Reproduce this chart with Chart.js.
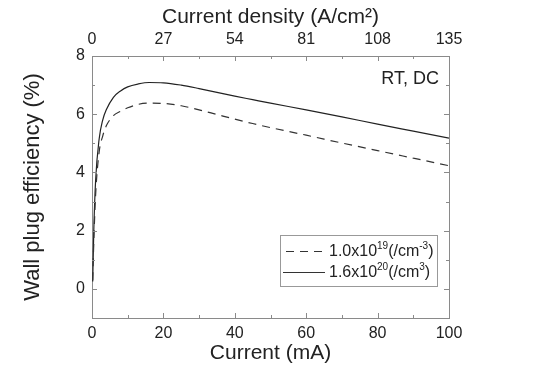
<!DOCTYPE html>
<html>
<head>
<meta charset="utf-8">
<script src="https://cdn.jsdelivr.net/npm/chart.js@4.4.1/dist/chart.umd.min.js"></script>
<style>
  html, body { margin: 0; padding: 0; background: #fff; }
  #c { display: block; }
</style>
</head>
<body>
<canvas id="c" width="542" height="372"></canvas>
<script>
// current (mA)
var current = [0.2, 0.5, 1, 2, 3, 4, 6, 8, 10, 13, 16, 20, 25, 30, 35, 40, 45, 50, 60, 70, 80, 90, 100];
// wall plug efficiency (%)
var wpe19 = [0.3, 1.6, 3.2, 4.7, 5.25, 5.6, 5.95, 6.1, 6.22, 6.34, 6.38, 6.37, 6.29, 6.15, 5.99, 5.83, 5.68, 5.54, 5.28, 5.01, 4.75, 4.49, 4.23];
var wpe20 = [0.25, 2.0, 3.7, 5.15, 5.8, 6.15, 6.58, 6.8, 6.94, 7.04, 7.09, 7.08, 7.0, 6.88, 6.75, 6.62, 6.5, 6.38, 6.15, 5.91, 5.66, 5.42, 5.18];
var densityTicks = [0, 27, 54, 81, 108, 135];
var yTicks = [0, 2, 4, 6, 8];

var axisColor = '#8a8a8a';
var textColor = '#222';
var FONT = 'Liberation Sans, Arial, Helvetica, sans-serif';

function pts(xs, ys){
    return xs.map(function(x, i){ return {x: x, y: ys[i]}; });
}

// inward tick marks (major + minor) on all four sides
var innerTicks = {
    id: 'innerTicks',
    afterDraw: function(chart){
        var ctx = chart.ctx, a = chart.chartArea;
        ctx.save();
        ctx.strokeStyle = axisColor;
        ctx.lineWidth = 1;
        function mark(scale, v, len, side){
            var p = Math.round(scale.getPixelForValue(v)) + 0.5;
            ctx.beginPath();
            if (side === 'bottom'){ ctx.moveTo(p, a.bottom); ctx.lineTo(p, a.bottom - len); }
            if (side === 'top'){ ctx.moveTo(p, a.top); ctx.lineTo(p, a.top + len); }
            if (side === 'left'){ ctx.moveTo(a.left, p); ctx.lineTo(a.left + len, p); }
            if (side === 'right'){ ctx.moveTo(a.right, p); ctx.lineTo(a.right - len, p); }
            ctx.stroke();
        }
        var x = chart.scales.x, x2 = chart.scales.x2, y = chart.scales.y, y2 = chart.scales.y2;
        for (var v = 0; v <= 100; v += 10) mark(x, v, v % 20 === 0 ? 5 : 3, 'bottom');
        for (var d = 0; d <= 135; d += 13.5) mark(x2, d, (d % 27 === 0) ? 5 : 3, 'top');
        for (var w = -1; w <= 8; w += 1){
            mark(y, w, w % 2 === 0 ? 5 : 3, 'left');
            mark(y2, w, w % 2 === 0 ? 5 : 3, 'right');
        }
        ctx.restore();
    }
};

// annotation + legend with superscripts
var extras = {
    id: 'extras',
    afterDraw: function(chart){
        var ctx = chart.ctx;
        ctx.save();
        ctx.fillStyle = textColor;
        ctx.textBaseline = 'middle';
        ctx.textAlign = 'right';
        ctx.font = '18px ' + FONT;
        ctx.fillText('RT, DC', 439, 79);

        // legend box
        ctx.strokeStyle = '#999';
        ctx.lineWidth = 1;
        ctx.strokeRect(280.5, 235.5, 157, 51);

        function supText(x, y, parts){
            ctx.textAlign = 'left';
            parts.forEach(function(p){
                if (p.sup){
                    ctx.font = '10px ' + FONT;
                    ctx.fillText(p.t, x, y - 6);
                } else {
                    ctx.font = '16px ' + FONT;
                    ctx.fillText(p.t, x, y);
                }
                x += ctx.measureText(p.t).width;
            });
        }
        ctx.strokeStyle = '#333';
        ctx.lineWidth = 1.2;
        ctx.setLineDash([8, 6]);
        ctx.beginPath(); ctx.moveTo(286, 251.5); ctx.lineTo(325, 251.5); ctx.stroke();
        ctx.setLineDash([]);
        ctx.beginPath(); ctx.moveTo(283, 272.5); ctx.lineTo(325, 272.5); ctx.stroke();

        supText(329, 252, [{t:'1.0x10'}, {t:'19', sup:true}, {t:'(/cm'}, {t:'-3', sup:true}, {t:')'}]);
        supText(329, 273, [{t:'1.6x10'}, {t:'20', sup:true}, {t:'(/cm'}, {t:'3', sup:true}, {t:')'}]);
        ctx.restore();
    }
};

new Chart(document.getElementById('c'), {
    type: 'line',
    data: {
        datasets: [
            {
                label: '1.0x10^19',
                data: pts(current, wpe19),
                borderColor: '#333',
                borderWidth: 1.2,
                borderDash: [8, 6],
                pointRadius: 0,
                cubicInterpolationMode: 'monotone',
                xAxisID: 'x', yAxisID: 'y'
            },
            {
                label: '1.6x10^20',
                data: pts(current, wpe20),
                borderColor: '#222',
                borderWidth: 1.2,
                pointRadius: 0,
                cubicInterpolationMode: 'monotone',
                xAxisID: 'x', yAxisID: 'y'
            }
        ]
    },
    options: {
        responsive: false,
        animation: false,
        devicePixelRatio: 1,
        layout: { padding: 0 },
        plugins: { legend: { display: false }, tooltip: { enabled: false } },
        scales: {
            x: {
                type: 'linear', position: 'bottom', min: 0, max: 100,
                afterFit: function(s){ s.height = 54; },
                border: { display: true, color: axisColor },
                grid: { drawOnChartArea: false, drawTicks: false },
                ticks: { stepSize: 20, padding: 6, color: textColor, font: { size: 16, family: FONT }, maxRotation: 0 },
                title: { display: true, text: 'Current (mA)', color: textColor, font: { size: 21, family: FONT }, padding: { bottom: 6 } }
            },
            x2: {
                type: 'linear', position: 'top', min: 0, max: 135,
                afterFit: function(s){ s.height = 56; },
                afterBuildTicks: function(s){ s.ticks = densityTicks.map(function(v){ return {value: v}; }); },
                border: { display: true, color: axisColor },
                grid: { drawOnChartArea: false, drawTicks: false },
                ticks: { padding: 7, color: textColor, font: { size: 16, family: FONT }, maxRotation: 0 },
                title: { display: true, text: 'Current density (A/cm²)', color: textColor, font: { size: 21, family: FONT }, padding: { top: 5 } }
            },
            y: {
                type: 'linear', position: 'left', min: -1, max: 8,
                afterFit: function(s){ s.width = 92; },
                afterBuildTicks: function(s){ s.ticks = yTicks.map(function(v){ return {value: v}; }); },
                border: { display: true, color: axisColor },
                grid: { drawOnChartArea: false, drawTicks: false },
                ticks: { padding: 7, color: textColor, font: { size: 16, family: FONT } },
                title: { display: true, text: 'Wall plug efficiency (%)', color: textColor, font: { size: 22, family: FONT }, padding: { top: 20 } }
            },
            y2: {
                type: 'linear', position: 'right', min: -1, max: 8,
                afterFit: function(s){ s.width = 93; },
                border: { display: true, color: axisColor },
                grid: { drawOnChartArea: false, drawTicks: false },
                ticks: { display: false }
            }
        }
    },
    plugins: [innerTicks, extras]
});
</script>
</body>
</html>
